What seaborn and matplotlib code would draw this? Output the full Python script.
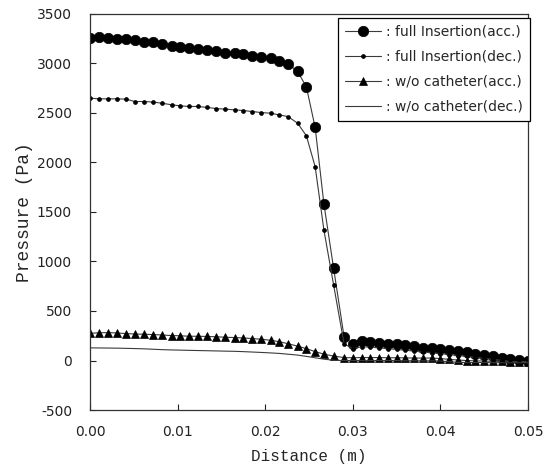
import matplotlib
matplotlib.use("Agg")
import matplotlib.pyplot as plt
import seaborn as sns
import pandas as pd

# Distance along the vessel (m)
distance = [0.0000, 0.0010, 0.0021, 0.0031, 0.0041, 0.0051, 0.0062, 0.0072, 0.0082, 0.0093,
            0.0103, 0.0113, 0.0123, 0.0134, 0.0144, 0.0154, 0.0165, 0.0175, 0.0185, 0.0195,
            0.0206, 0.0216, 0.0226, 0.0237, 0.0247, 0.0257, 0.0267, 0.0278, 0.0290, 0.0300,
            0.0310, 0.0320, 0.0330, 0.0340, 0.0350, 0.0360, 0.0370, 0.0380, 0.0390, 0.0400,
            0.0410, 0.0420, 0.0430, 0.0440, 0.0450, 0.0460, 0.0470, 0.0480, 0.0490, 0.0500]

# Pressure (Pa) for each case
full_acc = [3255, 3262, 3255, 3249, 3240, 3232, 3218, 3211, 3190, 3172,
            3162, 3154, 3140, 3135, 3122, 3106, 3102, 3096, 3078, 3064,
            3053, 3020, 2992, 2918, 2760, 2352, 1580, 935, 240, 170,
            200, 190, 180, 172, 163, 153, 143, 130, 122, 112,
            102, 92, 82, 70, 58, 42, 28, 17, 7, -5]
full_dec = [2648, 2641, 2641, 2641, 2638, 2614, 2614, 2608, 2597, 2581,
            2570, 2564, 2564, 2554, 2543, 2537, 2530, 2523, 2513, 2503,
            2496, 2479, 2462, 2395, 2267, 1956, 1316, 766, 170, 118,
            140, 135, 128, 120, 112, 104, 95, 85, 78, 70,
            60, 50, 42, 32, 22, 12, 2, -8, -15, -20]
wo_acc = [275, 280, 282, 278, 272, 268, 265, 262, 258, 252,
          250, 245, 245, 243, 240, 235, 232, 228, 222, 215,
          205, 190, 170, 145, 120, 90, 65, 45, 30, 28,
          30, 30, 30, 28, 28, 27, 25, 25, 25, 20,
          12, 5, 0, -3, -5, -8, -8, -10, -10, -10]
wo_dec = [128, 127, 126, 125, 123, 121, 118, 114, 110, 107,
          105, 103, 101, 99, 97, 95, 93, 90, 86, 82,
          77, 72, 64, 55, 42, 28, 14, 3, 0, 0,
          0, 0, 0, 0, 0, -2, -2, -3, -3, -5,
          -12, -18, -20, -20, -20, -22, -22, -22, -22, -22]

labels = [": full Insertion(acc.)", ": full Insertion(dec.)",
          ": w/o catheter(acc.)", ": w/o catheter(dec.)"]
x_ticks = [0.00, 0.01, 0.02, 0.03, 0.04, 0.05]
y_ticks = [-500, 0, 500, 1000, 1500, 2000, 2500, 3000, 3500]

df = pd.DataFrame({"distance": distance, "full_acc": full_acc, "full_dec": full_dec,
                   "wo_acc": wo_acc, "wo_dec": wo_dec})

sns.set_style("ticks")
plt.rcParams["font.family"] = ["DejaVu Sans"]

fig = plt.figure(figsize=(5.46, 4.73), dpi=100)
ax = fig.add_axes([0.165, 0.133, 0.802, 0.838])

line_c = "#3a3a3a"
styles = [
    ("full_acc", dict(marker="o", markersize=7.5)),
    ("full_dec", dict(marker="o", markersize=2.8)),
    ("wo_acc", dict(marker="^", markersize=5.5)),
    ("wo_dec", dict(marker=None)),
]
for (col, st), lab in zip(styles, labels):
    sns.lineplot(data=df, x="distance", y=col, ax=ax, label=lab, color=line_c,
                 linewidth=0.8, markerfacecolor="black", markeredgecolor="black",
                 markeredgewidth=0.5, sort=False, estimator=None, **st)

ax.set_xlim(0, 0.05)
ax.set_ylim(-500, 3500)
ax.set_xticks(x_ticks)
ax.set_xticklabels([f"{v:.2f}" for v in x_ticks])
ax.set_yticks(y_ticks)
ax.set_yticklabels([str(v) for v in y_ticks])
ax.tick_params(direction="in", length=4, width=0.8, colors="#222222",
               labelsize=10, top=False, right=False)
ax.tick_params(axis="y", pad=13)
ax.tick_params(axis="x", pad=11)
for s in ax.spines.values():
    s.set_visible(True)
    s.set_color("#333333")
    s.set_linewidth(0.9)

ax.set_xlabel("Distance (m)", family="Liberation Mono", fontsize=11.5, labelpad=7)
ax.set_ylabel("Pressure (Pa)", family="Liberation Mono", fontsize=13, labelpad=3)

leg = ax.legend(loc="upper right", bbox_to_anchor=(1.004, 0.99), frameon=True,
                fancybox=False, edgecolor="black", framealpha=1,
                fontsize=10, handlelength=2.6, handletextpad=0.35,
                labelspacing=0.8, borderpad=0.5, borderaxespad=0.0)
leg.get_frame().set_linewidth(0.9)

fig.savefig("out.png", dpi=100)
